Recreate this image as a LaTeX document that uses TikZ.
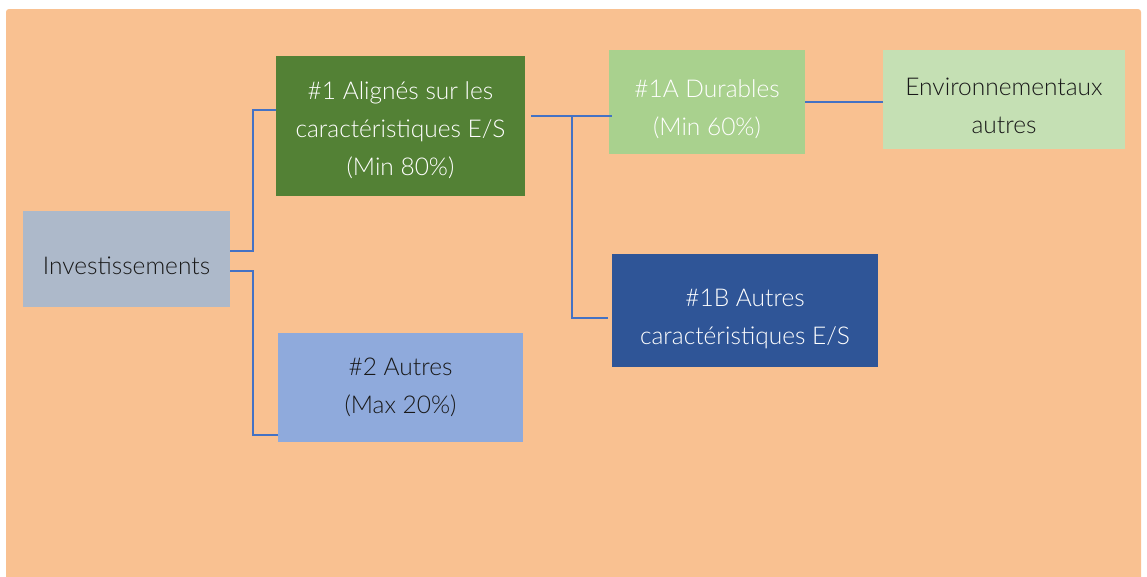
\documentclass[tikz,border=0pt]{standalone}
\usepackage{fontspec}
\setmainfont{Lato}[UprightFont=* Light]
\usetikzlibrary{calc,positioning}
\definecolor{bgorange}{HTML}{F9C191}
\definecolor{invgray}{HTML}{ADB9CA}
\definecolor{darkgreen}{HTML}{538135}
\definecolor{lightblue}{HTML}{8FAADC}
\definecolor{midgreen}{HTML}{A9D18E}
\definecolor{darkblue}{HTML}{2F5597}
\definecolor{palegreen}{HTML}{C5E0B4}
\definecolor{linkblue}{HTML}{4472C4}
\tikzset{
    box/.style = {
        inner sep=0pt,
        outer sep=0pt,
        anchor=north west,
        },
    box text/.style = {
        inner sep=0pt,
        align=center,
        font=\fontsize{24.5}{38}\selectfont,
        text = black!90,
        },
    light text/.style = {
        text = white,
        },
    link/.style = {
        draw=linkblue,
        line width=1.3pt,
        },
}
\begin{document}
\begin{tikzpicture}
            [
                x=1pt, y=-1pt,
            ]

            \useasboundingbox (0,0) rectangle (1147,576);
            \fill[bgorange, rounded corners=3pt] (6,9) rectangle (1141,580);

            % boxes
            \node [box, fill=invgray, minimum width=207pt, minimum height=96pt] (inv) at (23,211) {};
            \node [box, fill=darkgreen, minimum width=249pt, minimum height=140pt] (a1) at (276,56) {};
            \node [box, fill=lightblue, minimum width=245pt, minimum height=109pt] (a2) at (278,333) {};
            \node [box, fill=midgreen, minimum width=196pt, minimum height=104pt] (b1) at (609,50) {};
            \node [box, fill=darkblue, minimum width=266pt, minimum height=113pt] (b2) at (612,254) {};
            \node [box, fill=palegreen, minimum width=242pt, minimum height=99pt] (env) at (883,50) {};

            % texts
            \node [box text] (inv text) at ([yshift=-7pt]inv.center) {Investissements};
            \node [box text, light text] (a1 text) at ([yshift=-4pt]a1.center) {\#1 Alignés sur les\\caractéristiques E/S\\(Min 80\%)};
            \node [box text] (a2 text) at (a2.center) {\#2 Autres\\(Max 20\%)};
            \node [box text, light text] (b1 text) at ([yshift=-7.5pt]b1.center) {\#1A Durables\\(Min 60\%)};
            \node [box text, light text] (b2 text) at ([yshift=-8.5pt]b2.center) {\#1B Autres\\caractéristiques E/S};
            \node [box text] (env text) at ([yshift=-6.5pt]env.center) {Environnementaux\\autres};

            \draw[link] ([yshift=8pt]inv.east) -- ++(23,0) |- ([yshift=16pt]a1.west);
            \draw[link] ([yshift=-12pt]inv.east) -- ++(23,0) |- ([yshift=-47.5pt]a2.west);

            \coordinate (a1out) at ([xshift=6pt,yshift=10pt]a1.east);
            \coordinate (fork) at ($(a1out)+(41,0)$);
            \draw[link] (a1out) -- ([xshift=3pt]b1.west |- a1out);
            \draw[link] (fork) |- ([xshift=-4pt,yshift=-7.5pt]b2.west);

            \draw[link] (b1.east) -- (env.west |- b1.east);
        \end{tikzpicture}
\end{document}
